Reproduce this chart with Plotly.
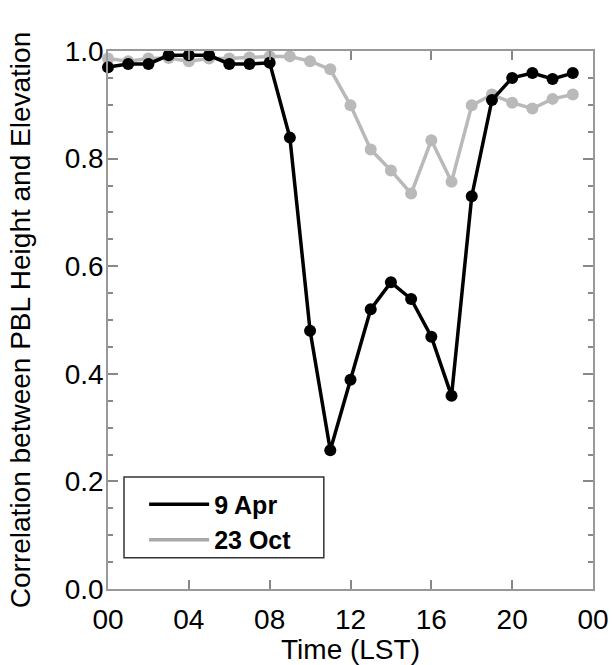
import plotly.graph_objects as go

hours = list(range(24))
apr9 = [0.970, 0.976, 0.976, 0.992, 0.992, 0.992, 0.976, 0.976, 0.978, 0.839,
        0.480, 0.258, 0.389, 0.520, 0.570, 0.539, 0.469, 0.359, 0.730, 0.909,
        0.950, 0.959, 0.948, 0.959]
oct23 = [0.986, 0.981, 0.986, 0.987, 0.981, 0.986, 0.986, 0.988, 0.990, 0.990,
         0.981, 0.966, 0.899, 0.817, 0.778, 0.735, 0.834, 0.757, 0.899, 0.919,
         0.904, 0.893, 0.911, 0.919]
series_names = ["9 Apr", "23 Oct"]
xtick_vals = [0, 4, 8, 12, 16, 20, 24]
xtick_text = ["00", "04", "08", "12", "16", "20", "00"]
ytick_vals = [0.0, 0.2, 0.4, 0.6, 0.8, 1.0]

BLACK = "#000000"
GRAY = "#b9b9b9"
FONT = "Liberation Sans, Arial, Helvetica, sans-serif"

fig = go.Figure()
fig.add_trace(go.Scatter(x=hours, y=oct23, mode="lines+markers",
                         line=dict(color=GRAY, width=3.5),
                         marker=dict(color=GRAY, size=12),
                         showlegend=False, cliponaxis=False))
fig.add_trace(go.Scatter(x=hours, y=apr9, mode="lines+markers",
                         line=dict(color=BLACK, width=3.5),
                         marker=dict(color=BLACK, size=12),
                         showlegend=False, cliponaxis=False))
# legend entries (line only)
fig.add_trace(go.Scatter(x=[None], y=[None], mode="lines", name=series_names[0],
                         line=dict(color=BLACK, width=3.5)))
fig.add_trace(go.Scatter(x=[None], y=[None], mode="lines", name=series_names[1],
                         line=dict(color="#a8a8a8", width=3.5)))

axis_common = dict(showline=True, linecolor="#999999", linewidth=1.5,
                   mirror="allticks", ticks="inside", tickcolor="#888888",
                   tickwidth=1.5, showgrid=False, zeroline=False, automargin=False,
                   tickfont=dict(family=FONT, size=28, color="#000"))

fig.update_xaxes(range=[0, 24], tickvals=xtick_vals, ticktext=xtick_text,
                 ticklen=9, ticklabelstandoff=5,
                 title=dict(text="Time (LST)", font=dict(family=FONT, size=28, color="#000"),
                            standoff=0),
                 **axis_common)
fig.update_yaxes(range=[0, 1.0], tickvals=ytick_vals, tickformat=".1f",
                 ticklen=10, ticklabelstandoff=-3,
                 minor=dict(dtick=0.05, ticks="inside", ticklen=5, tickcolor="#888888",
                            tickwidth=1.5, showgrid=False),
                 title=dict(text="Correlation between PBL Height and Elevation",
                            font=dict(family=FONT, size=28, color="#000"), standoff=26),
                 **axis_common)

fig.add_shape(type="rect", xref="paper", yref="paper",
              x0=0.033, x1=0.445, y0=0.058, y1=0.208,
              line=dict(color="#333333", width=1.5), fillcolor="rgba(0,0,0,0)")

fig.update_layout(
    width=612, height=665,
    margin=dict(l=108, r=19, t=51, b=76),
    plot_bgcolor="white", paper_bgcolor="white",
    legend=dict(x=0.0745, y=0.2, xanchor="left", yanchor="top",
                bgcolor="rgba(0,0,0,0)", borderwidth=0,
                font=dict(family=FONT, size=25, color="#000", weight="bold"),
                itemwidth=60, tracegroupgap=0),
)

fig.write_html("out.html")
